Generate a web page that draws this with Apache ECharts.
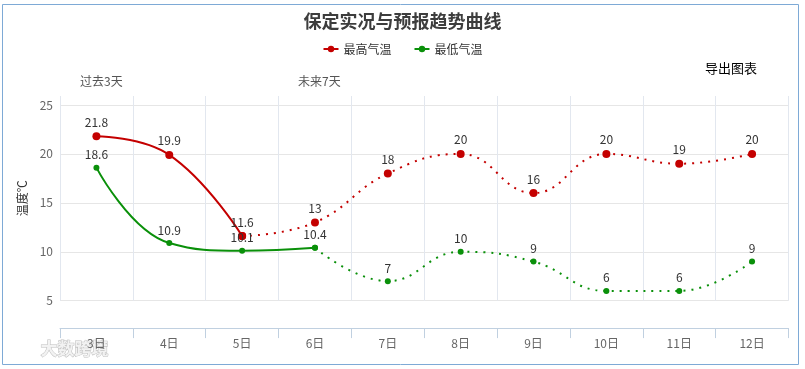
<!DOCTYPE html>
<html>
<head>
<meta charset="utf-8">
<script src="https://cdn.jsdelivr.net/npm/echarts@6/dist/echarts.min.js"></script>
<style>
html,body{margin:0;padding:0;background:#fff;}
#c{width:805px;height:369px;}
</style>
</head>
<body>
<div id="c"></div>
<script>
const days = ['3日','4日','5日','6日','7日','8日','9日','10日','11日','12日'];
const maxTemp = [21.8, 19.9, 11.6, 13, 18, 20, 16, 20, 19, 20];
const minTemp = [18.6, 10.9, 10.1, 10.4, 7, 10, 9, 6, 6, 9];
const maxObserved = 3;   // solid part of 最高气温
const minObserved = 4;   // solid part of 最低气温
const yTicks = [5, 10, 15, 20, 25];

const FONT = '"Noto Sans CJK SC", "Noto Sans", sans-serif';
const RED = '#c40000';
const GREEN = '#0a900a';

function past(arr, n) { return arr.map((v, i) => i < n ? v : null); }
function future(arr, n) {
  return arr.map((v, i) => {
    if (i < n - 1) return null;
    if (i === n - 1) return { value: v, label: { show: false } };
    return v;
  });
}

function mk(name, data, color, dotted, symSize) {
  return {
    name: name,
    type: 'line',
    data: data,
    smooth: 0.45,
    connectNulls: false,
    symbol: 'circle',
    symbolSize: symSize,
    color: color,
    itemStyle: { color: color },
    lineStyle: { color: color, width: 2, type: dotted ? [2, 6] : 'solid' },
    label: { show: true, position: 'top', distance: 4, color: '#333', fontSize: 12, fontFamily: FONT },
    emphasis: { disabled: true },
    z: dotted ? 2 : 3
  };
}

const chart = echarts.init(document.getElementById('c'), null, { renderer: 'canvas' });
chart.setOption({
  animation: false,
  backgroundColor: '#fff',
  title: {
    text: '保定实况与预报趋势曲线',
    left: 'center', top: 7,
    textStyle: { fontSize: 18, fontWeight: 'bold', color: '#3d3d3d', fontFamily: FONT }
  },
  legend: {
    data: ['最高气温', '最低气温'],
    top: 38, left: 'center',
    itemWidth: 15, itemHeight: 8, itemGap: 22,
    textStyle: { fontSize: 12, color: '#333', fontFamily: FONT }
  },
  grid: { left: 60, right: 16.5, top: 96, bottom: 68.3, containLabel: false },
  xAxis: {
    type: 'category',
    data: days,
    boundaryGap: true,
    position: 'bottom',
    offset: 27.4,
    axisLine: { show: true, lineStyle: { color: '#c0d0e0', width: 1 } },
    axisTick: { show: true, length: 10, lineStyle: { color: '#c0d0e0' } },
    axisLabel: { color: '#666', fontSize: 12, margin: 9, fontFamily: FONT },
    splitLine: { show: true, lineStyle: { color: '#e2e7ef', width: 1 } }
  },
  yAxis: {
    type: 'value',
    min: yTicks[0],
    max: 25.92,
    interval: yTicks[1] - yTicks[0],
    name: '温度℃',
    nameLocation: 'middle',
    nameGap: 26,
    nameTextStyle: { color: '#333', fontSize: 12, fontFamily: FONT },
    axisLine: { show: false },
    axisTick: { show: false },
    axisLabel: { color: '#666', fontSize: 12, margin: 7, showMaxLabel: false, fontFamily: FONT },
    splitLine: { show: true, showMaxLine: false, lineStyle: { color: '#e6e6e6', width: 1 } }
  },
  graphic: [
    { type: 'rect', shape: { x: 2.5, y: 4.5, width: 796, height: 360 }, style: { fill: 'none', stroke: '#7eaad6', lineWidth: 1 }, silent: true },
    { type: 'text', left: 705, top: 62, style: { text: '导出图表', fontSize: 13, fill: '#000', fontFamily: FONT } },
    { type: 'text', left: 80, top: 75, style: { text: '过去3天', fontSize: 12, fill: '#555', fontFamily: FONT } },
    { type: 'text', left: 298, top: 75, style: { text: '未来7天', fontSize: 12, fill: '#555', fontFamily: FONT } },
    { type: 'text', left: 40, top: 340, style: { text: '大数跨境', fontSize: 17, fontWeight: 'bold', fill: '#f2f2f2', stroke: '#bdbdbd', lineWidth: 1, fontFamily: FONT } }
  ],
  series: [
    mk('最高气温', past(maxTemp, maxObserved), RED, false, 8),
    mk('最高气温', future(maxTemp, maxObserved), RED, true, 8),
    mk('最低气温', past(minTemp, minObserved), GREEN, false, 6),
    mk('最低气温', future(minTemp, minObserved), GREEN, true, 6)
  ]
});
</script>
</body>
</html>
